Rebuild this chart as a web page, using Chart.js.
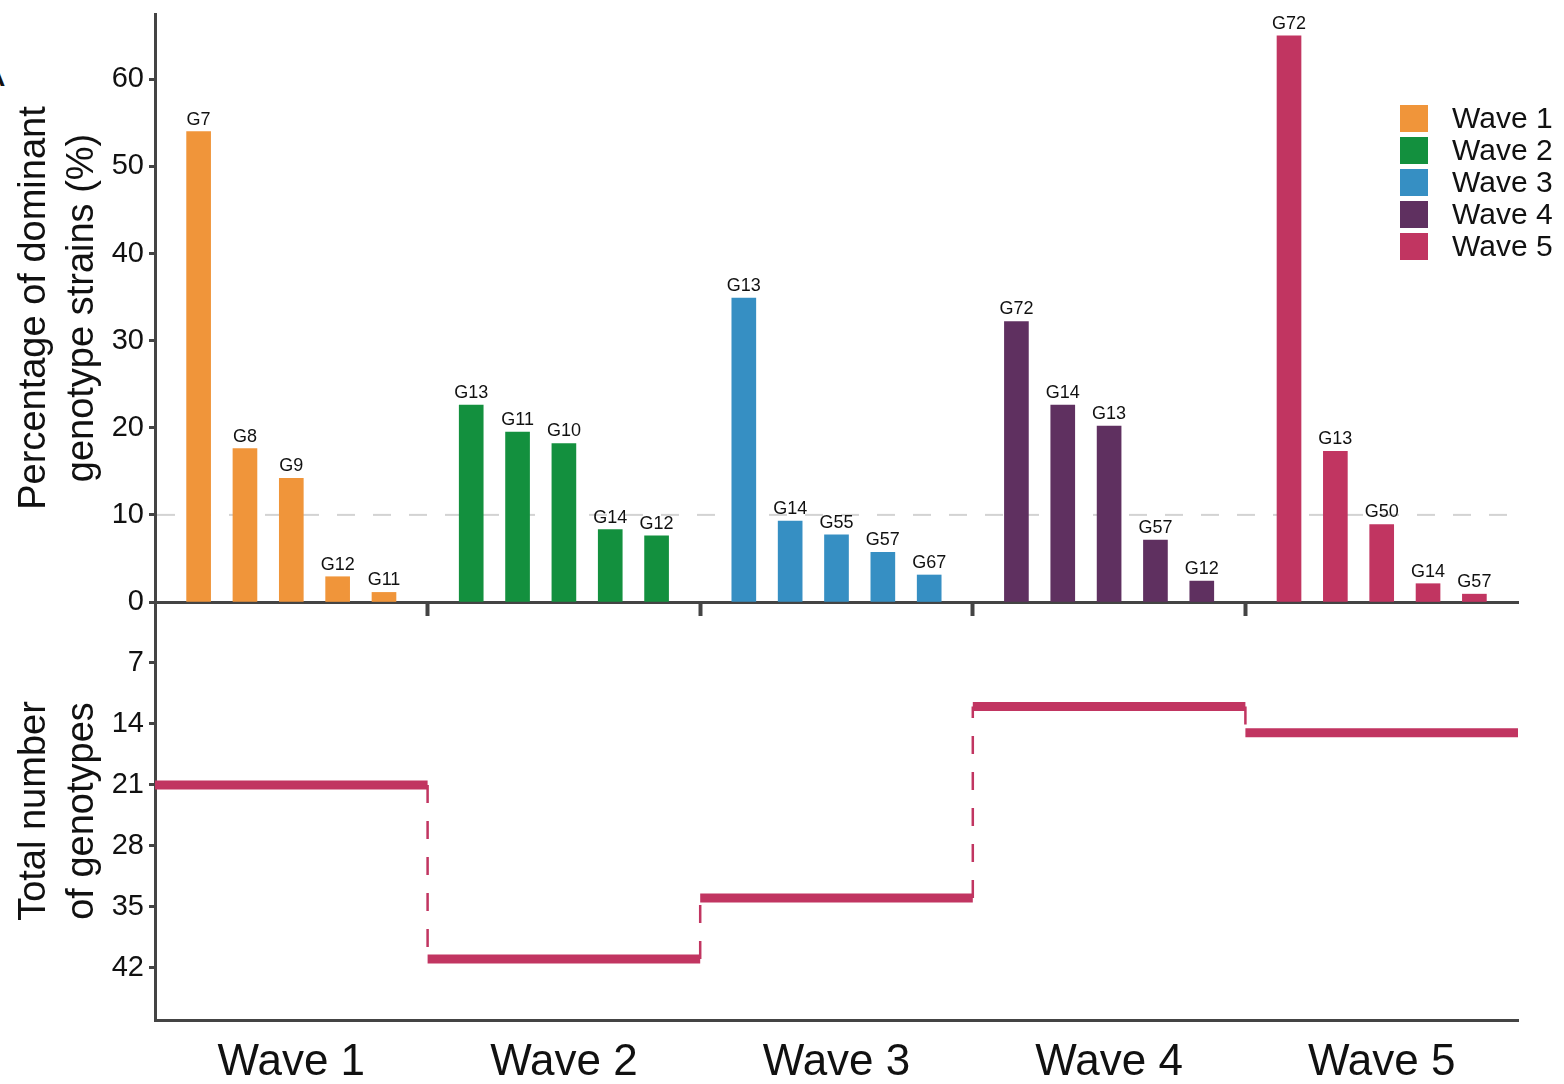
<!DOCTYPE html>
<html>
<head>
<meta charset="utf-8">
<script src="https://cdn.jsdelivr.net/npm/chart.js@4.4.1/dist/chart.umd.min.js"></script>
<style>
  html, body { margin: 0; padding: 0; background: #fff; overflow: hidden; }
  #wrap { position: relative; width: 1564px; height: 1084px; font-family: "Liberation Sans", Arial, sans-serif; }
  canvas { position: absolute; left: 0; top: 0; }
  #legend { position: absolute; left: 1400px; top: 102px; }
  .leg-item { display: flex; align-items: center; height: 32px; }
  .leg-box { width: 28px; height: 27px; margin-right: 24px; }
  .leg-text { font-size: 30px; color: #111; line-height: 32px; }
  #panel { position: absolute; left: -22px; top: 50px; font-size: 40px; color: #111; }
</style>
</head>
<body>
<div id="wrap">
  <div id="panel">A</div>
  <canvas id="topChart" width="1564" height="1084"></canvas>
  <canvas id="bottomChart" width="1564" height="1084"></canvas>
  <div id="legend"></div>
</div>
<script>
// Dominant genotype strains per wave + total genotype count
const waves = ['Wave 1', 'Wave 2', 'Wave 3', 'Wave 4', 'Wave 5'];
const waveColors = ['#F0953A', '#13903E', '#368FC3', '#5F3060', '#C13561'];

const genotypes = [
    ['G7', 'G8', 'G9', 'G12', 'G11'],
    ['G13', 'G11', 'G10', 'G14', 'G12'],
    ['G13', 'G14', 'G55', 'G57', 'G67'],
    ['G72', 'G14', 'G13', 'G57', 'G12'],
    ['G72', 'G13', 'G50', 'G14', 'G57']
];
const percents = [
    [54.0, 17.6, 14.2, 2.9, 1.1],
    [22.6, 19.5, 18.2, 8.3, 7.6],
    [34.9, 9.3, 7.7, 5.7, 3.1],
    [32.2, 22.6, 20.2, 7.1, 2.4],
    [65.0, 17.3, 8.9, 2.1, 0.9]
];
const totalGenotypes = [21, 41, 34, 12, 15];

const percentTicks = [0, 10, 20, 30, 40, 50, 60];
const totalTicks = [7, 14, 21, 28, 35, 42];
const referenceLine = 10;

const axisColor = '#444';
const textColor = '#111';
const fontFamily = '"Liberation Sans", Arial, sans-serif';

// Legend (html)
const legend = document.getElementById('legend');
waves.forEach((w, i) => {
    const item = document.createElement('div');
    item.className = 'leg-item';
    item.innerHTML = `<div class="leg-box" style="background:${waveColors[i]}"></div><span class="leg-text">${w}</span>`;
    legend.appendChild(item);
});

// dashed grey line at 10%
const refLine = {
    id: 'refLine',
    beforeDatasetsDraw(chart) {
        const { ctx, chartArea } = chart;
        const y = chart.scales.y.getPixelForValue(referenceLine);
        ctx.save();
        ctx.strokeStyle = '#d3d3d3';
        ctx.lineWidth = 2;
        ctx.setLineDash([18, 18]);
        ctx.beginPath();
        ctx.moveTo(chartArea.left + 2, y);
        ctx.lineTo(chartArea.right, y);
        ctx.stroke();
        ctx.restore();
    }
};

// genotype name above each bar
const barLabels = {
    id: 'barLabels',
    afterDatasetsDraw(chart) {
        const ctx = chart.ctx;
        ctx.save();
        ctx.font = '18px ' + fontFamily;
        ctx.fillStyle = textColor;
        ctx.textAlign = 'center';
        ctx.textBaseline = 'bottom';
        chart.data.datasets.forEach((ds, w) => {
            chart.getDatasetMeta(w).data.forEach((el, j) => {
                ctx.fillText(genotypes[w][j], el.x, el.y - 3);
            });
        });
        ctx.restore();
    }
};

function initTopChart() {
    const ctx = document.getElementById('topChart').getContext('2d');
    const datasets = waves.map((w, i) => ({
        label: w,
        data: percents[i].map((v, j) => ({ x: i + 0.5 + (j - 2) * 0.17, y: v })),
        backgroundColor: waveColors[i],
        barThickness: 24,
        grouped: false
    }));

    new Chart(ctx, {
        type: 'bar',
        data: { datasets: datasets },
        plugins: [refLine, barLabels],
        options: {
            responsive: false,
            animation: false,
            devicePixelRatio: 1,
            layout: { padding: { left: 0, top: 14, right: 46, bottom: 468 } },
            plugins: { legend: { display: false }, tooltip: { enabled: false } },
            scales: {
                x: {
                    type: 'linear',
                    min: 0,
                    max: 5,
                    offset: false,
                    afterBuildTicks: (scale) => {
                        scale.ticks = waves.slice(1).map((w, i) => ({ value: i + 1 }));
                    },
                    afterFit: (scale) => {
                        scale.height = 14;
                        scale.paddingLeft = 0;
                        scale.paddingRight = 0;
                    },
                    ticks: { display: false },
                    grid: {
                        offset: false,
                        drawOnChartArea: false,
                        tickLength: 14,
                        tickWidth: 4,
                        tickColor: axisColor
                    },
                    border: { color: axisColor, width: 3 }
                },
                y: {
                    min: 0,
                    max: 67.5,
                    afterBuildTicks: (scale) => {
                        scale.ticks = percentTicks.map(v => ({ value: v }));
                    },
                    afterFit: (scale) => {
                        scale.width = 155;
                        scale.paddingTop = 0;
                        scale.paddingBottom = 0;
                    },
                    ticks: {
                        font: { size: 29, family: fontFamily },
                        color: textColor,
                        padding: 5
                    },
                    grid: {
                        drawOnChartArea: false,
                        tickLength: 6,
                        tickWidth: 3,
                        tickColor: axisColor
                    },
                    border: { color: axisColor, width: 3 },
                    title: {
                        display: true,
                        text: ['Percentage of dominant', 'genotype strains (%)'],
                        font: { size: 38, family: fontFamily, lineHeight: 1.28 },
                        color: textColor,
                        padding: { top: 10, bottom: 0 }
                    }
                }
            }
        }
    });
}

function initBottomChart() {
    const ctx = document.getElementById('bottomChart').getContext('2d');

    // horizontal level per wave
    const levels = [];
    totalGenotypes.forEach((t, i) => {
        levels.push({ x: i, y: t }, { x: i + 1, y: t }, { x: i + 1, y: null });
    });
    // dashed connectors between waves
    const steps = [];
    totalGenotypes.slice(1).forEach((t, i) => {
        steps.push({ x: i + 1, y: totalGenotypes[i] }, { x: i + 1, y: t }, { x: i + 1, y: null });
    });

    new Chart(ctx, {
        type: 'line',
        data: {
            datasets: [
                {
                    label: 'connectors',
                    data: steps,
                    borderColor: '#C13561',
                    borderWidth: 2.5,
                    borderDash: [18, 18],
                    pointRadius: 0,
                    spanGaps: false
                },
                {
                    label: 'Total genotypes',
                    data: levels,
                    borderColor: '#C13561',
                    borderWidth: 9,
                    borderCapStyle: 'butt',
                    pointRadius: 0,
                    spanGaps: false
                }
            ]
        },
        options: {
            responsive: false,
            animation: false,
            devicePixelRatio: 1,
            layout: { padding: { left: 0, top: 602, right: 46, bottom: 0 } },
            plugins: { legend: { display: false }, tooltip: { enabled: false } },
            scales: {
                x: {
                    type: 'linear',
                    min: 0,
                    max: 5,
                    afterBuildTicks: (scale) => {
                        scale.ticks = waves.map((w, i) => ({ value: i + 0.5 }));
                    },
                    afterFit: (scale) => {
                        scale.height = 64;
                        scale.paddingLeft = 0;
                        scale.paddingRight = 0;
                    },
                    ticks: {
                        callback: (v) => waves[Math.round(v - 0.5)],
                        font: { size: 44, family: fontFamily },
                        color: textColor,
                        padding: 16,
                        autoSkip: false,
                        maxRotation: 0
                    },
                    grid: { drawOnChartArea: false, drawTicks: false },
                    border: { color: axisColor, width: 3 }
                },
                y: {
                    reverse: true,
                    min: 0,
                    max: 48,
                    afterBuildTicks: (scale) => {
                        scale.ticks = totalTicks.map(v => ({ value: v }));
                    },
                    afterFit: (scale) => {
                        scale.width = 155;
                        scale.paddingTop = 0;
                        scale.paddingBottom = 0;
                    },
                    ticks: {
                        font: { size: 29, family: fontFamily },
                        color: textColor,
                        padding: 5
                    },
                    grid: {
                        drawOnChartArea: false,
                        tickLength: 6,
                        tickWidth: 3,
                        tickColor: axisColor
                    },
                    border: { color: axisColor, width: 3 },
                    title: {
                        display: true,
                        text: ['Total number', 'of genotypes'],
                        font: { size: 38, family: fontFamily, lineHeight: 1.28 },
                        color: textColor,
                        padding: { top: 10, bottom: 0 }
                    }
                }
            }
        }
    });
}

window.onload = () => {
    initTopChart();
    initBottomChart();
};
</script>
</body>
</html>
